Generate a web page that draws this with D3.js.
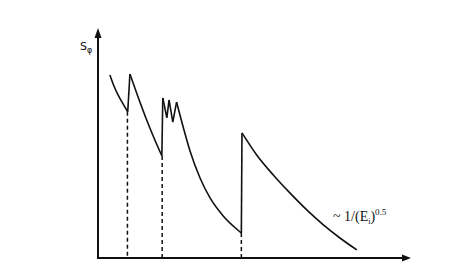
<!DOCTYPE html>
<meta charset="utf-8">
<style>
body { margin: 0; background: #fff; }
.curve { fill: none; stroke: #111; stroke-width: 1.6px; stroke-linejoin: miter; }
.axis-line { stroke: #111; stroke-width: 2px; }
.edge { stroke: #111; stroke-width: 1.5px; stroke-dasharray: 4,3; }
.ylabel { font: 11px "DejaVu Sans", sans-serif; fill: #111; }
.formula { font: 14px "Liberation Serif", serif; fill: #111; }
</style>
<svg width="456" height="265"></svg>
<script src="https://d3js.org/d3.v7.min.js"></script>
<script>

// decay branches of the curve, [E, S] in arbitrary units (0..100)
var branch1 = [[3.8, 79.6], [5.1, 74.8], [6.4, 70.9], [8.0, 67.0], [9.5, 63.6]];
var branch2 = [[10.2, 80.0], [12.8, 70.0], [15.3, 60.9], [17.9, 52.2], [20.4, 44.4]];
var zigzag  = [[20.7, 69.6], [22.0, 60.9], [22.7, 68.7], [23.9, 59.1], [25.1, 67.8]];
var branch3 = [[25.1, 67.8], [27.3, 56.5], [29.4, 46.5], [32.6, 34.8], [35.8, 26.1],
               [40.0, 18.3], [44.3, 12.6], [45.8, 10.9]];
var branch4 = [[46.0, 54.4], [50.7, 44.8], [56.0, 36.1], [61.3, 28.3], [66.7, 20.9],
               [72.0, 14.4], [77.3, 8.7], [82.7, 3.5]];

// absorption edges (dashed drop lines): position and curve value at the edge
var edgeE = [9.4, 20.5, 45.8];
var edgeS = [63.6, 44.4, 10.9];

var svg = d3.select("svg");

var x = d3.scaleLinear().domain([0, 100]).range([98, 411]);
var y = d3.scaleLinear().domain([0, 100]).range([258, 28]);

var smooth = d3.line()
    .x(function(d) { return x(d[0]); })
    .y(function(d) { return y(d[1]); })
    .curve(d3.curveMonotoneX);

var straight = d3.line()
    .x(function(d) { return x(d[0]); })
    .y(function(d) { return y(d[1]); });

// dashed edges first, so the curve sits on top
svg.append("g").selectAll("line")
  .data(edgeE)
  .enter().append("line")
    .attr("class", "edge")
    .attr("x1", function(d) { return x(d); })
    .attr("x2", function(d) { return x(d); })
    .attr("y1", function(d, i) { return y(edgeS[i]); })
    .attr("y2", y(0));

// axes
var ax = svg.append("g");
ax.append("line").attr("class", "axis-line")
    .attr("x1", x(0)).attr("x2", x(0))
    .attr("y1", y(0) + 1).attr("y2", y(100) + 6);
ax.append("line").attr("class", "axis-line")
    .attr("x1", x(0) - 1).attr("x2", x(100) - 6)
    .attr("y1", y(0)).attr("y2", y(0));

// arrow heads
ax.append("path")
    .attr("d", "M" + x(0) + "," + y(100) + "l-3.5,10h7z")
    .attr("fill", "#111");
ax.append("path")
    .attr("d", "M" + x(100) + "," + y(0) + "l-9,-3.5v7z")
    .attr("fill", "#111");

// curve: smooth decays joined by vertical jumps
var branches = [branch1, branch2, branch3, branch4];
var g = svg.append("g");
g.selectAll("path.decay")
  .data(branches)
  .enter().append("path")
    .attr("class", "curve decay")
    .attr("d", smooth);

g.append("path").attr("class", "curve").attr("d", straight(zigzag));

var jumps = [
  [branch1[branch1.length - 1], branch2[0]],
  [branch2[branch2.length - 1], zigzag[0]],
  [branch3[branch3.length - 1], branch4[0]]
];
g.selectAll("path.jump")
  .data(jumps)
  .enter().append("path")
    .attr("class", "curve jump")
    .attr("d", straight);

// labels
var yl = svg.append("text").attr("class", "ylabel")
    .attr("x", x(0) - 18).attr("y", y(100) + 22);
yl.append("tspan").text("S");
yl.append("tspan").attr("dy", 3).attr("font-size", "8px").text("φ");

var f = svg.append("text").attr("class", "formula")
    .attr("x", 333).attr("y", 221);
f.append("tspan").text("~ 1/(E");
f.append("tspan").attr("dy", 3).attr("font-size", "8px").text("i");
f.append("tspan").attr("dy", -3).text(")");
f.append("tspan").attr("dy", -6).attr("font-size", "9px").text("0.5");

</script>
